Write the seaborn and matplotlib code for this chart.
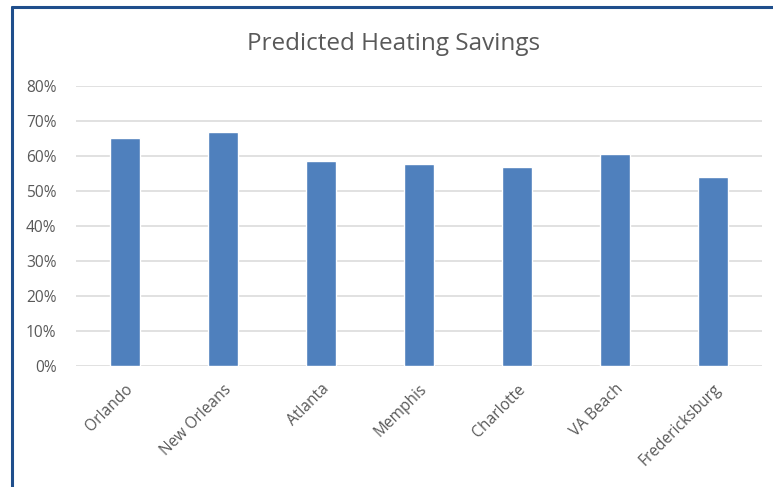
import matplotlib
matplotlib.use("Agg")
import matplotlib.pyplot as plt
import seaborn as sns
import pandas as pd
from matplotlib.lines import Line2D
from matplotlib.ticker import PercentFormatter

cities = ["Orlando", "New Orleans", "Atlanta", "Memphis", "Charlotte", "VA Beach", "Fredericksburg"]
savings = [0.652, 0.667, 0.585, 0.576, 0.567, 0.605, 0.540]

df = pd.DataFrame({"city": cities, "savings": savings})

sns.set_style("white")
plt.rcParams["font.family"] = ["Open Sans", "DejaVu Sans"]

fig = plt.figure(figsize=(7.73, 4.87), dpi=100)
ax = fig.add_axes([76 / 773, 1 - 366 / 487, 686 / 773, (366 - 85.7) / 487])

sns.barplot(data=df, x="city", y="savings", color="#4F80BD", saturation=1,
            width=0.3, ax=ax, zorder=3)

ax.set_ylim(0, 0.8)
ax.set_xlim(-0.5, len(cities) - 0.5)
ax.set_yticks([i / 10 for i in range(9)])
ax.yaxis.set_major_formatter(PercentFormatter(1.0, decimals=0))
ax.grid(axis="y", color="#D9D9D9", lw=1.1, zorder=0)
ax.set_axisbelow(True)
for s in ax.spines.values():
    s.set_visible(False)
ax.tick_params(axis="both", length=0, colors="#595959", labelsize=11.2)
ax.tick_params(axis="y", pad=14)
plt.setp(ax.get_xticklabels(), rotation=45, ha="right", rotation_mode="anchor")
ax.tick_params(axis="x", pad=11)
ax.set_xlabel("")
ax.set_ylabel("")

fig.text(394 / 773, 1 - 44 / 487, "Predicted Heating Savings", ha="center", va="center",
         fontsize=17.5, color="#595959")

# outer frame (left and top edges visible in the reference)
fig.add_artist(Line2D([11.5 / 773, 11.5 / 773], [0, 1 - 7 / 487], color="#1F4E8C", lw=2.2))
fig.add_artist(Line2D([11.5 / 773, 1], [1 - 7 / 487, 1 - 7 / 487], color="#1F4E8C", lw=2.2))

fig.savefig("out.png", dpi=100)
